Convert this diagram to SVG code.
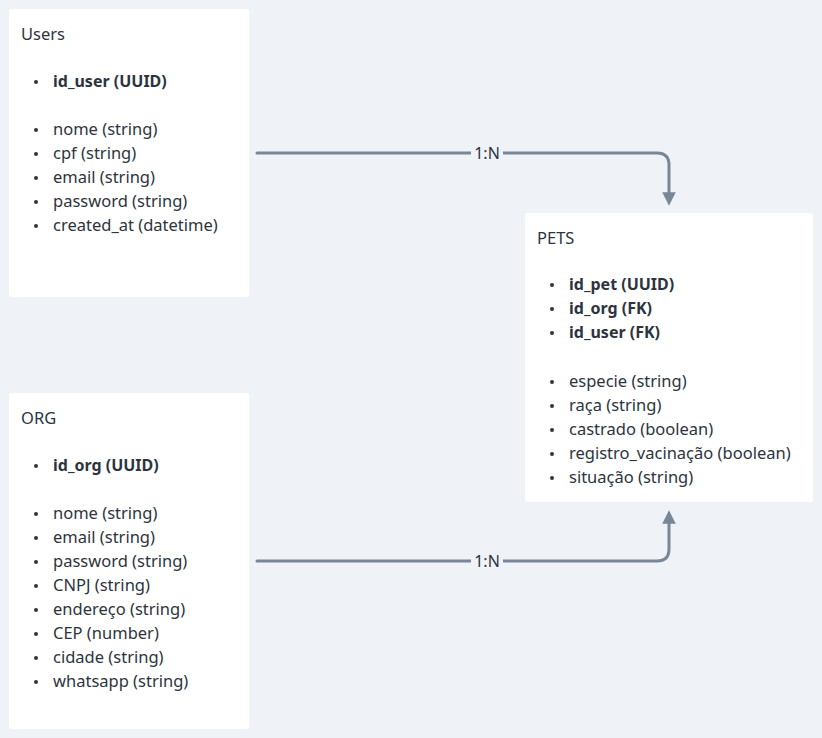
<svg xmlns="http://www.w3.org/2000/svg" width="822" height="738" viewBox="0 0 822 738">
<defs>
<style>
.box{fill:#ffffff;}
text{font-family:"Noto Sans","Open Sans",sans-serif;font-size:16.5px;fill:#2d3440;}
.b{font-weight:bold;font-size:16px;}
.dot{fill:#2d3440;}
.edge{fill:none;stroke:#788696;stroke-width:3;stroke-linecap:round;}
.lbl{font-size:16px;fill:#2d3440;text-anchor:middle;}
</style>
<marker id="arr" viewBox="0 0 10 10" refX="5" refY="5" markerWidth="4.5" markerHeight="4.5" orient="auto-start-reverse" markerUnits="strokeWidth">
<path d="M0,0 L10,5 L0,10 z" fill="#788696"/>
</marker>
</defs>
<rect width="822" height="738" fill="#eff3f7"/>
<g id="edges">
<path class="edge" d="M257,153 H657 Q669,153 669,165 V199" marker-end="url(#arr)"/>
<rect x="471" y="143" width="32" height="20" fill="#eff3f7"/>
<text class="lbl" x="487" y="159">1:N</text>
<path class="edge" d="M257,561 H657 Q669,561 669,549 V517" marker-end="url(#arr)"/>
<rect x="471" y="551" width="32" height="20" fill="#eff3f7"/>
<text class="lbl" x="487" y="567">1:N</text>
</g>
<g id="users">
<rect class="box" x="9" y="9" width="240" height="288" rx="3"/>
<text x="21" y="40">Users</text>
<circle class="dot" cx="36" cy="82" r="2"/><text class="b" x="53" y="87">id_user (UUID)</text>
<circle class="dot" cx="36" cy="130" r="2"/><text x="53" y="135">nome (string)</text>
<circle class="dot" cx="36" cy="154" r="2"/><text x="53" y="159">cpf (string)</text>
<circle class="dot" cx="36" cy="178" r="2"/><text x="53" y="183">email (string)</text>
<circle class="dot" cx="36" cy="202" r="2"/><text x="53" y="207">password (string)</text>
<circle class="dot" cx="36" cy="226" r="2"/><text x="53" y="231">created_at (datetime)</text>
</g>
<g id="org">
<rect class="box" x="9" y="393" width="240" height="336" rx="3"/>
<text x="21" y="424">ORG</text>
<circle class="dot" cx="36" cy="466" r="2"/><text class="b" x="53" y="471">id_org (UUID)</text>
<circle class="dot" cx="36" cy="514" r="2"/><text x="53" y="519">nome (string)</text>
<circle class="dot" cx="36" cy="538" r="2"/><text x="53" y="543">email (string)</text>
<circle class="dot" cx="36" cy="562" r="2"/><text x="53" y="567">password (string)</text>
<circle class="dot" cx="36" cy="586" r="2"/><text x="53" y="591">CNPJ (string)</text>
<circle class="dot" cx="36" cy="610" r="2"/><text x="53" y="615">endereço (string)</text>
<circle class="dot" cx="36" cy="634" r="2"/><text x="53" y="639">CEP (number)</text>
<circle class="dot" cx="36" cy="658" r="2"/><text x="53" y="663">cidade (string)</text>
<circle class="dot" cx="36" cy="682" r="2"/><text x="53" y="687">whatsapp (string)</text>
</g>
<g id="pets">
<rect class="box" x="525" y="213" width="288" height="289" rx="3"/>
<text x="537" y="244">PETS</text>
<circle class="dot" cx="552" cy="285" r="2"/><text class="b" x="569" y="290">id_pet (UUID)</text>
<circle class="dot" cx="552" cy="309" r="2"/><text class="b" x="569" y="314">id_org (FK)</text>
<circle class="dot" cx="552" cy="333" r="2"/><text class="b" x="569" y="338">id_user (FK)</text>
<circle class="dot" cx="552" cy="382" r="2"/><text x="569" y="387">especie (string)</text>
<circle class="dot" cx="552" cy="406" r="2"/><text x="569" y="411">raça (string)</text>
<circle class="dot" cx="552" cy="430" r="2"/><text x="569" y="435">castrado (boolean)</text>
<circle class="dot" cx="552" cy="454" r="2"/><text x="569" y="459">registro_vacinação (boolean)</text>
<circle class="dot" cx="552" cy="478" r="2"/><text x="569" y="483">situação (string)</text>
</g>
</svg>
